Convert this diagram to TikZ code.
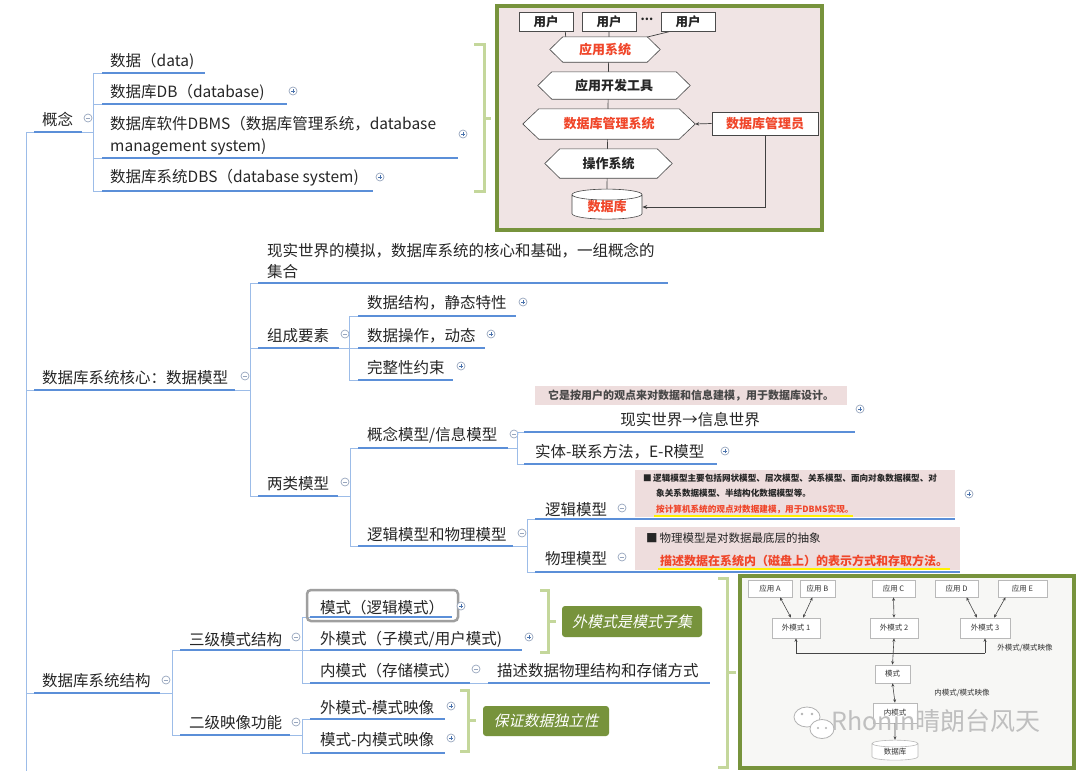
\documentclass[tikz,border=0pt]{standalone}
\usepackage{fontspec}
\setmainfont{Noto Sans CJK SC}
\newfontfamily\cjkit{Noto Sans CJK SC}[FakeSlant=0.22]
\usetikzlibrary{shapes.geometric,arrows.meta}
\definecolor{lineblue}{HTML}{5B8FD8}
\definecolor{connblue}{HTML}{9CBCE8}
\definecolor{txt}{HTML}{262626}
\definecolor{brgreen}{HTML}{C4D79B}
\definecolor{olivebox}{HTML}{77933C}
\definecolor{pinkbg}{HTML}{F0E4E4}
\definecolor{boxpink}{HTML}{EEDDDD}
\definecolor{colgray}{HTML}{98A6BE}
\definecolor{redt}{HTML}{F0462A}
\definecolor{imgbg}{HTML}{F7F7F5}
\pgfdeclarelayer{bg0}\pgfdeclarelayer{bg1}\pgfdeclarelayer{bg2}
\pgfsetlayers{bg0,bg1,bg2,main}
\newcommand\hexdraw[2]{\filldraw[draw=gray!55!black,fill=white,line width=0.6pt] (#1.west) -- ([xshift=#2]#1.north west) -- ([xshift=-#2]#1.north east) -- (#1.east) -- ([xshift=-#2]#1.south east) -- ([xshift=#2]#1.south west) -- cycle;}
\tikzset{
 tx/.style={anchor=west,inner sep=0pt,yshift=-1.5pt,font=\fontsize{15.5}{18}\selectfont,text=txt},
 uline/.style={draw=lineblue,line width=2pt},
 conn/.style={draw=connblue,line width=1pt},
 brk/.style={draw=brgreen,line width=3pt},
 minusc/.style={circle,draw=colgray,fill=white,minimum size=8pt,inner sep=0pt,line width=0.7pt,
   path picture={\draw[colgray,line width=0.8pt]([xshift=-2.2pt]path picture bounding box.center)--([xshift=2.2pt]path picture bounding box.center);}},
 plusc/.style={circle,draw=colgray,fill=white,minimum size=8pt,inner sep=0pt,line width=0.7pt,
   path picture={\draw[lineblue!80!black,line width=0.9pt]([xshift=-2pt]path picture bounding box.center)--([xshift=2pt]path picture bounding box.center) ([yshift=-2pt]path picture bounding box.center)--([yshift=2pt]path picture bounding box.center);}},
 ubox/.style={rectangle,draw=gray!60!black,fill=white,minimum width=54pt,minimum height=19pt,inner sep=0pt,line width=0.6pt,font=\fontsize{12.5}{13}\selectfont\bfseries,text=txt},
 hexnode/.style={rectangle,inner sep=0pt,font=\fontsize{13}{14}\selectfont\bfseries},
 gline/.style={draw=gray!50!black,line width=0.7pt},
 tag/.style={rectangle,rounded corners=3pt,fill=olivebox,inner sep=0pt,font=\cjkit\fontsize{15}{18}\selectfont,text=white},
 sbox/.style={rectangle,draw=gray!55,fill=white,inner sep=0pt,line width=0.6pt,font=\fontsize{7.5}{8}\selectfont,text=gray!40!black},
 barrow/.style={draw=gray!55!black,line width=0.6pt,{Stealth[length=3.5pt,width=3pt]}-{Stealth[length=3.5pt,width=3pt]}},
 sarrow/.style={draw=gray!55!black,line width=0.6pt,-{Stealth[length=3.5pt,width=3pt]}},
}
\begin{document}
\begin{tikzpicture}[x=1pt,y=-1pt]
\useasboundingbox (0,0) rectangle (1080,771);
\begin{pgfonlayer}{bg0}
\fill[white] (0,0) rectangle (1080,771);
\fill[pinkbg] (497,6) rectangle (822,230);
\end{pgfonlayer}

% ===== main trunk
\coordinate (t0) at (26,132);
\coordinate (t1) at (26,771);
\draw[conn] (t0) -- (t1);

% ===== 概念
\node[tx] (gn) at (42,118) {概念};
\draw[uline] (34,132) -- (82,132);
\draw[conn] (26,132) -- (34,132);
\node[minusc] (k0) at (88,118) {};
\draw[conn] (82,132) -- (93,132);
\draw[conn] (93,73) -- (93,191);
\foreach \yy in {73,104,158,191} {\draw[conn] (93,\yy) -- (102,\yy);}
\node[tx] (c1) at (110,60) {数据（data)};
\draw[uline] (102,73) -- (205,73);
\node[tx] (c2) at (110,91) {数据库DB（database)};
\draw[uline] (102,104) -- (287,104);
\node[plusc] (k1) at (293,91) {};
\node[tx,align=left,font=\fontsize{15.5}{22}\selectfont] (c3) at (110,134) {数据库软件DBMS（数据库管理系统，database\\management system)};
\draw[uline] (102,158) -- (458,158);
\node[plusc] (k2) at (463,134) {};
\node[tx] (c4) at (110,176) {数据库系统DBS（database system)};
\draw[uline] (102,191) -- (373,191);
\node[plusc] (k3) at (380,177) {};
\draw[brk] (474,44) -- (484,44) -- (484,191) -- (474,191);
\draw[brk] (484,118) -- (491,118);

% ===== top image
\node[ubox] (u1) at (546,22) {用户};
\node[ubox] (u2) at (609,22) {用户};
\node[inner sep=0pt,font=\fontsize{12}{12}\selectfont\bfseries,text=txt] (dots) at (647,19) {...};
\node[ubox] (u3) at (688,22) {用户};
\node[hexnode,minimum width=110pt,minimum height=25pt,text=redt] (app) at (605,49.5) {应用系统};
\node[hexnode,minimum width=152pt,minimum height=27pt,text=txt] (tool) at (614,85.5) {应用开发工具};
\node[hexnode,minimum width=172pt,minimum height=30pt,text=redt] (dbms) at (609,124) {数据库管理系统};
\node[hexnode,minimum width=127pt,minimum height=29pt,text=txt] (os) at (608.5,163.5) {操作系统};
\node[rectangle,draw=gray!55!black,fill=white,minimum width=106pt,minimum height=23pt,inner sep=0pt,line width=0.6pt,font=\fontsize{13}{14}\selectfont\bfseries,text=redt] (dba) at (765,123.5) {数据库管理员};
\node[cylinder,shape border rotate=90,aspect=0.28,draw=gray!55!black,fill=white,minimum width=70pt,minimum height=30pt,inner sep=0pt,line width=0.6pt,font=\fontsize{13}{14}\selectfont\bfseries,text=redt] (db) at (607,207) {数据库};
\begin{pgfonlayer}{bg2}
\hexdraw{app}{13pt}
\hexdraw{tool}{14pt}
\hexdraw{dbms}{16pt}
\hexdraw{os}{15pt}
\end{pgfonlayer}
\begin{pgfonlayer}{bg1}
\draw[gline] (u2.south) -- (db.north);
\draw[gline] ([xshift=-8pt]u1.south east) -- ([xshift=16pt,yshift=-1pt]app.north west);
\draw[gline] ([xshift=8pt]u3.south west) -- ([xshift=-16pt,yshift=-1pt]app.north east);
\end{pgfonlayer}
\draw[gline,-{Stealth[length=4pt,width=3.5pt]}] (dba.west) -- (dbms.east);
\draw[gline,line width=1pt,-{Stealth[length=5pt,width=4pt]}] (dba.south) |- (db.east);
\draw[draw=olivebox,line width=4pt] (497,6) rectangle (822,230);

% ===== 数据库系统核心
\node[tx] (core) at (42,376) {数据库系统核心：数据模型};
\draw[conn] (26,390) -- (34,390);
\draw[uline] (34,390) -- (235,390);
\node[minusc] (k4) at (245,376) {};
\draw[conn] (235,390) -- (250,390);
\draw[conn] (250,283) -- (250,496);
\foreach \yy in {283,348,496} {\draw[conn] (250,\yy) -- (258,\yy);}
\node[tx,align=left,font=\fontsize{15.5}{21}\selectfont] (r1) at (267,259.5) {现实世界的模拟，数据库系统的核心和基础，一组概念的\\集合};
\draw[uline] (258,283) -- (668,283);
\node[tx] (r2) at (267,334) {组成要素};
\draw[uline] (258,348) -- (339,348);
\node[minusc] (k5) at (345,334) {};
\draw[conn] (339,348) -- (349,348);
\draw[conn] (349,316) -- (349,380);
\foreach \yy in {316,348,380} {\draw[conn] (349,\yy) -- (358,\yy);}
\node[tx] (r21) at (367,301) {数据结构，静态特性};
\draw[uline] (358,316) -- (516,316);
\node[plusc] (k6) at (523,302) {};
\node[tx] (r22) at (367,334) {数据操作，动态};
\draw[uline] (358,348) -- (485,348);
\node[plusc] (k7) at (491,334) {};
\node[tx] (r23) at (367,366) {完整性约束};
\draw[uline] (358,380) -- (453,380);
\node[plusc] (k8) at (461,366) {};

\node[tx] (r3) at (267,482) {两类模型};
\draw[uline] (258,496) -- (338,496);
\node[minusc] (k9) at (345,482) {};
\draw[conn] (338,496) -- (350,496);
\draw[conn] (350,448) -- (350,546);
\foreach \yy in {448,546} {\draw[conn] (350,\yy) -- (358,\yy);}
\node[tx] (r31) at (367,434) {概念模型/信息模型};
\draw[uline] (358,448) -- (508,448);
\node[minusc] (k10) at (514,434) {};
\draw[conn] (508,448) -- (517,448);
\draw[conn] (517,432) -- (517,464);
\foreach \yy in {432,464} {\draw[conn] (517,\yy) -- (524,\yy);}
\node[anchor=west,fill=boxpink,minimum width=312pt,minimum height=19pt,inner sep=0pt,font=\fontsize{11}{12}\selectfont\bfseries,text=txt!85] (note1) at (535,395.5) {它是按用户的观点来对数据和信息建模，用于数据库设计。};
\node[tx,anchor=center] (r311) at (690,418) {现实世界→信息世界};
\draw[uline] (524,432) -- (855,432);
\node[plusc] (k11) at (860,409) {};
\node[tx] (r312) at (535,450) {实体-联系方法，E-R模型};
\draw[uline] (524,464) -- (717,464);
\node[plusc] (k12) at (725,451) {};

\node[tx] (r32) at (367,533) {逻辑模型和物理模型};
\draw[uline] (358,546) -- (513,546);
\node[minusc] (k13) at (522,533) {};
\draw[conn] (513,546) -- (527,546);
\draw[conn] (527,519) -- (527,572);
\foreach \yy in {519,572} {\draw[conn] (527,\yy) -- (535,\yy);}
\fill[boxpink] (635,470) rectangle (955,517);
\fill[boxpink] (635,527) rectangle (960,570);
\node[tx] (r321) at (545,508) {逻辑模型};
\node[minusc] (k14) at (622,508) {};
\draw[uline] (535,519) -- (955,519);
\node[plusc] (k15) at (969,494) {};
\draw[yellow,line width=2pt] (654,516) -- (853,516);
\node[anchor=west,inner sep=0pt,font=\fontsize{8.6}{9}\selectfont\bfseries,text=txt] (lg1) at (643,478) {■\,逻辑模型主要包括网状模型、层次模型、关系模型、面向对象数据模型、对};
\node[anchor=west,inner sep=0pt,font=\fontsize{8.6}{9}\selectfont\bfseries,text=txt] (lg2) at (656,493) {象关系数据模型、半结构化数据模型等。};
\node[anchor=west,inner sep=0pt,font=\fontsize{8.6}{9}\selectfont\bfseries,text=redt] (lg3) at (656,509) {按计算机系统的观点对数据建模，用于DBMS实现。};
\node[tx] (r322) at (545,557) {物理模型};
\node[minusc] (k16) at (622,557) {};
\draw[uline] (535,572) -- (960,572);
\draw[yellow,line width=2pt] (658,569) -- (950,569);
\node[anchor=west,inner sep=0pt,font=\fontsize{11.5}{12}\selectfont,text=txt] (ph1) at (646,538) {■\,物理模型是对数据最底层的抽象};
\node[anchor=west,inner sep=0pt,font=\fontsize{12}{13}\selectfont\bfseries,text=redt] (ph2) at (660,561) {描述数据在系统内（磁盘上）的表示方式和存取方法。};

% ===== 数据库系统结构
\node[tx] (st) at (42,679) {数据库系统结构};
\draw[conn] (26,693) -- (34,693);
\draw[uline] (34,693) -- (160,693);
\node[minusc] (k17) at (166,680) {};
\draw[conn] (160,693) -- (172,693);
\draw[conn] (172,650) -- (172,735);
\foreach \yy in {650,735} {\draw[conn] (172,\yy) -- (180,\yy);}
\node[tx] (s1) at (189,638) {三级模式结构};
\draw[uline] (180,650) -- (290,650);
\node[minusc] (k18) at (296,637) {};
\draw[conn] (290,650) -- (302,650);
\draw[conn] (302,617) -- (302,683);
\foreach \yy in {617,650,683} {\draw[conn] (302,\yy) -- (310,\yy);}
\draw[draw=gray!75,line width=2.5pt,rounded corners=4pt] (307,590) rectangle (458,621);
\node[tx] (s11) at (320,606) {模式（逻辑模式）};
\draw[uline] (310,617) -- (452,617);
\node[plusc] (k19) at (461,606) {};
\node[tx] (s12) at (320,638) {外模式（子模式/用户模式)};
\draw[uline] (310,650) -- (522,650);
\node[plusc] (k20) at (529,637) {};
\node[tx] (s13) at (320,669) {内模式（存储模式）};
\draw[uline] (310,683) -- (470,683);
\node[minusc] (k21) at (476,669) {};
\draw[conn] (470,683) -- (488,683);
\node[tx] (s131) at (497,669) {描述数据物理结构和存储方式};
\draw[uline] (488,683) -- (710,683);
\node[tx] (s2) at (189,721) {二级映像功能};
\draw[uline] (180,735) -- (290,735);
\node[minusc] (k22) at (296,722) {};
\draw[conn] (290,735) -- (302,735);
\draw[conn] (302,719) -- (302,753);
\foreach \yy in {719,753} {\draw[conn] (302,\yy) -- (310,\yy);}
\node[tx] (s21) at (320,706) {外模式-模式映像};
\draw[uline] (310,719) -- (445,719);
\node[plusc] (k23) at (451,706) {};
\node[tx] (s22) at (320,738) {模式-内模式映像};
\draw[uline] (310,753) -- (445,753);
\node[plusc] (k24) at (451,738) {};

\draw[brk] (540,590) -- (548,590) -- (548,652) -- (540,652);
\draw[brk] (548,621) -- (556,621);
\node[tag,minimum width=140pt,minimum height=31pt] (tg1) at (632,621.5) {外模式是模式子集};
\draw[brk] (460,690) -- (468,690) -- (468,751) -- (460,751);
\draw[brk] (468,720) -- (476,720);
\node[tag,minimum width=126pt,minimum height=30pt] (tg2) at (546,721) {保证数据独立性};
\draw[brk] (718,578) -- (727,578) -- (727,767) -- (718,767);
\draw[brk] (727,672) -- (736,672);

% ===== bottom-right image
\fill[imgbg] (740,576) rectangle (1074,768);
\node[sbox,minimum width=44pt,minimum height=17pt] (aA) at (770,588.5) {应用 A};
\node[sbox,minimum width=35pt,minimum height=17pt] (aB) at (817.5,588.5) {应用 B};
\node[sbox,minimum width=43pt,minimum height=17pt] (aC) at (893.5,588.5) {应用 C};
\node[sbox,minimum width=43pt,minimum height=17pt] (aD) at (956.5,588.5) {应用 D};
\node[sbox,minimum width=49pt,minimum height=17pt] (aE) at (1022.5,588.5) {应用 E};
\node[sbox,minimum width=48pt,minimum height=20pt] (w1) at (796,628) {外模式 1};
\node[sbox,minimum width=48pt,minimum height=20pt] (w2) at (894,628) {外模式 2};
\node[sbox,minimum width=50pt,minimum height=20pt] (w3) at (985,628) {外模式 3};
\node[sbox,minimum width=35pt,minimum height=18pt] (mo) at (892.5,674) {模式};
\node[sbox,minimum width=44pt,minimum height=20pt] (nm) at (895,713) {内模式};
\node[cylinder,shape border rotate=90,aspect=0.3,draw=gray!55,fill=white,minimum width=46pt,minimum height=20pt,inner sep=0pt,line width=0.6pt,font=\fontsize{7.5}{8}\selectfont,text=gray!40!black] (dbc) at (895,752) {数据库};
\draw[barrow] ([xshift=10pt]aA.south) -- ([xshift=-5pt]w1.north);
\draw[barrow] ([xshift=-5pt]aB.south) -- ([xshift=7pt]w1.north);
\draw[barrow] (aC.south) -- (w2.north);
\draw[barrow] ([xshift=10pt]aD.south) -- ([xshift=-8pt]w3.north);
\draw[barrow] ([xshift=-17pt]aE.south) -- ([xshift=9pt]w3.north);
\coordinate (hl) at (796,653);
\coordinate (hr) at (985,653);
\draw[draw=gray!55!black,line width=0.6pt] (hl) -- (hr);
\draw[sarrow] (hl) -- (w1.south);
\draw[sarrow] (hr) -- (w3.south);
\draw[barrow] (w2.south) -- (mo.north);
\draw[barrow] (mo.south) -- (nm.north);
\draw[sarrow] (nm.south) -- (dbc.north);
\node[inner sep=0pt,font=\fontsize{7.5}{8}\selectfont,text=gray!40!black] (lab1) at (1025,648) {外模式/模式映像};
\node[inner sep=0pt,font=\fontsize{7.5}{8}\selectfont,text=gray!40!black] (lab2) at (962,693) {内模式/模式映像};
% watermark
\filldraw[draw=gray!60,fill=white,line width=0.8pt] (807,717) ellipse (13pt and 10pt);
\filldraw[draw=gray!60,fill=white,line width=0.8pt] (822,729) ellipse (12pt and 9.5pt);
\fill[gray!60] (802,714) circle (1.3pt) (812,714) circle (1.3pt) (818,728) circle (1.1pt) (826,728) circle (1.1pt);
\node[inner sep=0pt,font=\fontsize{25}{26}\selectfont,text=gray!50] (wm) at (936,721) {Rhonin晴朗台风天};
\draw[draw=olivebox,line width=4pt] (740,576) rectangle (1074,768);
\end{tikzpicture}
\end{document}
